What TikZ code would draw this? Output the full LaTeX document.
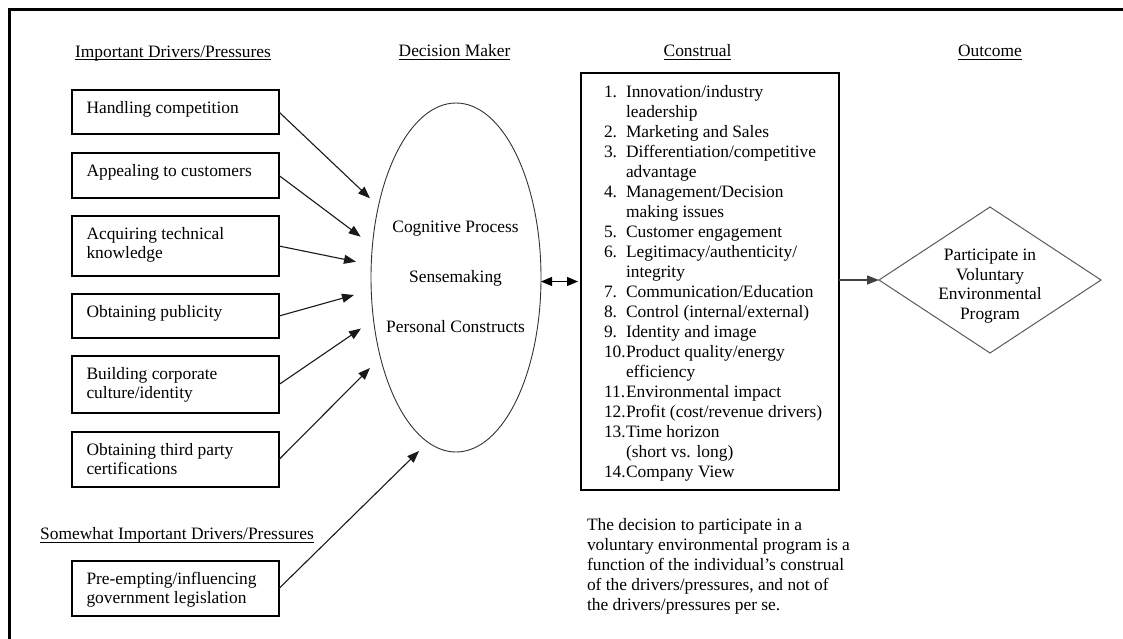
\documentclass[tikz,border=0pt]{standalone}
\usepackage{fontspec}
\setmainfont{Liberation Serif}
\usetikzlibrary{arrows.meta,shapes.geometric}
\newcommand{\mylines}[1]{\begin{tabular}{@{}l@{}}#1\end{tabular}}
\newcommand{\mycentred}[1]{\begin{tabular}{@{}c@{}}#1\end{tabular}}
\newcommand{\num}[1]{\makebox[22pt][l]{#1}}
\newcommand{\cont}{\hspace*{22pt}}

\begin{document}
\begin{tikzpicture}[x=1pt,y=-1pt,
  every node/.style={inner sep=0pt, outer sep=0pt},
  boxtext/.style={font=\fontsize{17.4}{19}\selectfont, anchor=north west},
  head/.style={font=\fontsize{17.4}{20}\selectfont, anchor=base},
  drvbox/.style={draw=black, line width=1.1pt, rectangle, minimum width=207pt},
  feed/.style={draw=black!90, line width=1.1pt, -{Triangle[length=12pt,width=9pt]}},
  uline/.style={line width=0.9pt},
]
\useasboundingbox (0,0) rectangle (1123,638);

% outer frame (top and left edges)
\draw[line width=2.8pt] (9.8,645) -- (9.8,9.8) -- (1130,9.8);

% column headings
\node[head] (h1) at (173,57) {Important Drivers/Pressures};
\node[head] (h2) at (454.5,56.5) {Decision Maker};
\node[head] (h3) at (697.5,56.5) {Construal};
\node[head] (h4) at (990,56.5) {Outcome};
\node[head] (h5) at (177,539.8) {Somewhat Important Drivers/Pressures};
\foreach \h in {h1,h2,h3,h4,h5}
  \draw[uline] ([yshift=-2.5pt]\h.base west) -- ([yshift=-2.5pt]\h.base east);

% driver boxes
\node[drvbox, minimum height=44pt] (b1) at (175.5,112) {};
\node[drvbox, minimum height=45pt] (b2) at (175.5,175.5) {};
\node[drvbox, minimum height=60pt] (b3) at (175.5,246) {};
\node[drvbox, minimum height=44pt] (b4) at (175.5,316) {};
\node[drvbox, minimum height=57pt] (b5) at (175.5,384.5) {};
\node[drvbox, minimum height=55pt] (b6) at (175.5,459.5) {};
\node[drvbox, minimum height=55pt] (b7) at (175.5,588.5) {};

\node[boxtext] (t1) at (86.5,100.2) {\mylines{Handling competition}};
\node[boxtext] (t2) at (86.5,163.2) {\mylines{Appealing to customers}};
\node[boxtext] (t3) at (86.5,226.2) {\mylines{Acquiring technical\\knowledge}};
\node[boxtext] (t4) at (86.5,304.2) {\mylines{Obtaining publicity}};
\node[boxtext] (t5) at (86.5,366.2) {\mylines{Building corporate\\culture/identity}};
\node[boxtext] (t6) at (86.5,442.2) {\mylines{Obtaining third party\\certifications}};
\node[boxtext] (t7) at (86.5,571.2) {\mylines{Pre-empting/influencing\\government legislation}};

% decision maker
\node[draw=black!80, line width=0.9pt, ellipse, minimum width=170pt, minimum height=349pt] (ell) at (456,277.5) {};
\node[head] (e1) at (455.5,232.2) {Cognitive Process};
\node[head] (e2) at (455.5,282.5) {Sensemaking};
\node[head] (e3) at (455.5,332.2) {Personal Constructs};

% arrow tips stop just short of the ellipse
\coordinate (p1) at (370,198.3);
\coordinate (p2) at (360.7,236.7);
\coordinate (p3) at (356,261.7);
\coordinate (p4) at (354,295);
\coordinate (p5) at (361,328.5);
\coordinate (p6) at (370,368);
\coordinate (p7) at (419,451);
\foreach \i in {1,...,7}
  \draw[feed] (b\i.east) -- (p\i);

% construal list
\node[draw=black, line width=1.1pt, rectangle, minimum width=258pt, minimum height=417pt] (con) at (710,281.5) {};
\node[anchor=north west, font=\fontsize{17.4}{20}\selectfont] (list) at (604,83.2) {\mylines{%
\num{1.}Innovation/industry\\
\cont leadership\\
\num{2.}Marketing and Sales\\
\num{3.}Differentiation/competitive\\
\cont advantage\\
\num{4.}Management/Decision\\
\cont making issues\\
\num{5.}Customer engagement\\
\num{6.}Legitimacy/authenticity/\\
\cont integrity\\
\num{7.}Communication/Education\\
\num{8.}Control (internal/external)\\
\num{9.}Identity and image\\
\num{10.}Product quality/energy\\
\cont efficiency\\
\num{11.}Environmental impact\\
\num{12.}Profit (cost/revenue drivers)\\
\num{13.}Time horizon\\
\cont (short vs. long)\\
\num{14.}Company View}};

\draw[line width=1.1pt, {Triangle[length=11pt,width=9pt]}-{Triangle[length=11pt,width=9pt]}, shorten >=3pt]
  (ell.east |- con.west) -- (con.west);

% outcome
\node[draw=black!65, line width=1pt, diamond, minimum width=222pt, minimum height=146pt] (dia) at (990,280) {};
\node[anchor=north, font=\fontsize{17.4}{19.7}\selectfont] (diat) at (990,246.7)
  {\mycentred{Participate in\\Voluntary\\Environmental\\Program}};
\draw[line width=1.4pt, black!75, -{Triangle[length=12pt,width=9pt]}] (con.east |- dia.west) -- (dia.west);

% note
\node[anchor=north west, font=\fontsize{17.4}{20}\selectfont] (note) at (587,516.5) {\mylines{%
The decision to participate in a\\
voluntary environmental program is a\\
function of the individual's construal\\
of the drivers/pressures, and not of\\
the drivers/pressures per se.}};
\end{tikzpicture}
\end{document}
